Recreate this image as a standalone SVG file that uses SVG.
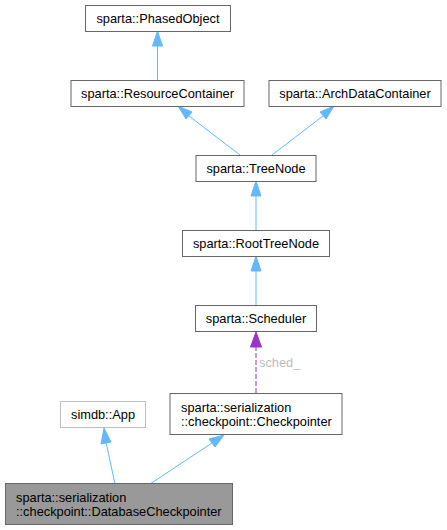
<svg xmlns="http://www.w3.org/2000/svg" width="447" height="530" viewBox="0 0 447 530">
<style>
.n rect{fill:#fff;stroke:#666;stroke-width:1}
.n text{font-family:"Liberation Sans",Arial,sans-serif;font-size:12.8px;fill:#000}
.c{text-anchor:middle}
.e{fill:none;stroke:#63b8ff;stroke-width:1}
.h{fill:#63b8ff;stroke:#63b8ff}
.p{fill:none;stroke:#9a32cd;stroke-width:1;stroke-dasharray:5,2}
.ph{fill:#9a32cd;stroke:#9a32cd}
.lbl{font-family:"Liberation Sans",Arial,sans-serif;font-size:12.8px;fill:#bcbcbc}
</style>
<rect width="447" height="530" fill="#fff"/>
<g id="connectors">
<path class="e" d="M157.5,80 V45"/>
<polygon class="h" points="162.5,46 157.5,31 152.5,46"/>
<path class="e" d="M240,155 L189,116"/>
<polygon class="h" points="192,112 178,106 186,119"/>
<path class="e" d="M272,155 L323,116"/>
<polygon class="h" points="326,119 334,106 320,112"/>
<path class="e" d="M256,230 V195"/>
<polygon class="h" points="261,196 256,181 251,196"/>
<path class="e" d="M256,305 V270"/>
<polygon class="h" points="261,271 256,256 251,271"/>
<path class="p" d="M256,393 V347"/>
<polygon class="ph" points="261.5,347 256,332 250.5,347"/>
<text class="lbl" x="259" y="367">sched_</text>
<path class="e" d="M115,484 L106,442"/>
<polygon class="h" points="111,442 104,428 101,444"/>
<path class="e" d="M150,484 L212,443"/>
<polygon class="h" points="215,447 224,435 209,439"/>
</g>
<g id="PhasedObject" class="n"><rect x="85.5" y="5.5" width="145" height="26"/><text class="c" x="158" y="23">sparta::PhasedObject</text></g>
<g id="ResourceContainer" class="n"><rect x="71" y="80.5" width="173" height="26"/><text class="c" x="157.5" y="98">sparta::ResourceContainer</text></g>
<g id="ArchDataContainer" class="n"><rect x="269" y="80.5" width="172" height="26"/><text class="c" x="355" y="98">sparta::ArchDataContainer</text></g>
<g id="TreeNode" class="n"><rect x="196" y="155.5" width="120" height="26"/><text class="c" x="256" y="173">sparta::TreeNode</text></g>
<g id="RootTreeNode" class="n"><rect x="182.5" y="230.5" width="147" height="26"/><text class="c" x="256" y="248">sparta::RootTreeNode</text></g>
<g id="Scheduler" class="n"><rect x="195.5" y="305.5" width="121" height="26"/><text class="c" x="256" y="323">sparta::Scheduler</text></g>
<g id="Checkpointer" class="n"><rect x="170" y="393.5" width="172" height="41"/><text x="181" y="412">sparta::serialization</text><text x="181" y="426">::checkpoint::Checkpointer</text></g>
<g id="App" class="n"><rect x="60.5" y="401.5" width="85" height="26" style="stroke:#bfbfbf"/><text class="c" x="103" y="419">simdb::App</text></g>
<g id="DatabaseCheckpointer" class="n"><rect x="5.5" y="483.5" width="227" height="41" style="fill:#999"/><text x="16" y="502">sparta::serialization</text><text x="16" y="516">::checkpoint::DatabaseCheckpointer</text></g>
</svg>
